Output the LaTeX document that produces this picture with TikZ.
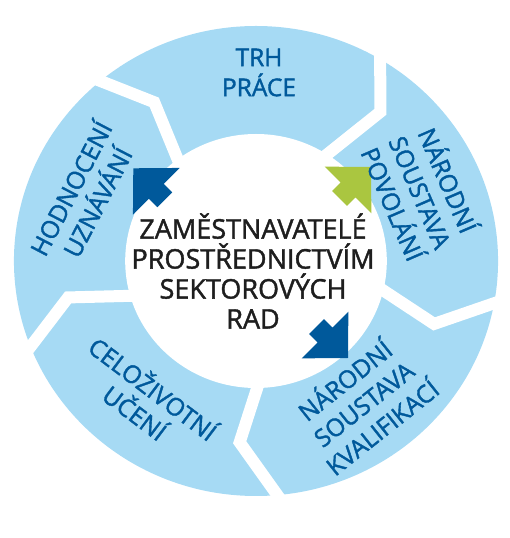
\documentclass[tikz,border=0pt]{standalone}
\usepackage{fontspec}
\setmainfont[FakeBold=1.5]{Open Sans}
\usetikzlibrary{calc}
\definecolor{ringblue}{RGB}{166,218,244}
\definecolor{cycleblue}{RGB}{0,89,155}
\definecolor{leafgreen}{RGB}{170,198,64}
\definecolor{hubtext}{RGB}{30,30,30}

\begin{document}
\begin{tikzpicture}[x=1pt, y=1pt,
    seg/.style={fill=ringblue},
    cut/.style={draw=white, line width=12pt, line join=miter},
    lbl/.style={text=cycleblue, align=center, font=\fontsize{24.5}{30}\selectfont},
    hub/.style={text=hubtext, align=center, font=\fontsize{27}{30}\selectfont}
  ]
  \useasboundingbox (0,0) rectangle (510,538);
  % ring of five chevrons
  \begin{scope}[shift={(256,277)}, xscale=1.03]
    \fill[seg] (0,0) circle [radius=235];
    \foreach \o/\t/\r/\i in {131.8/121.9/187/129.2, 61.2/51/192/59.9, -8.4/-20/184/-10, -83/-95/182/-86.6, 203.5/191.3/186/198.2}
      \draw[cut] (\o:250) -- (\t:\r) -- (\i:110);
    \fill[white] (0,0) circle [radius=127];
  \end{scope}
  % block arrows
  \foreach \x/\y/\a/\c in {133.3/369.7/135/cycleblue, 371/371/45/leafgreen, 348/180/-45/cycleblue}
    \fill[\c, shift={(\x,\y)}, rotate=\a] (0,0) -- (-32.5,33) -- (-32.5,10.5) -- (-44.5,10.5)
      -- (-44.5,-10.5) -- (-32.5,-10.5) -- (-32.5,-33) -- cycle;
  % texts
  \node[hub] (hub) at (253,267) {ZAMĚSTNAVATELÉ\\PROSTŘEDNICTVÍM\\SEKTOROVÝCH\\RAD};
  \node[lbl] (trh) at (259,465.5) {TRH\\PRÁCE};
  \node[lbl, rotate=-66.7] (povolani) at (422,346.5) {NÁRODNÍ\\SOUSTAVA\\POVOLÁNÍ};
  \node[lbl, rotate=38.5] (kvalifikace) at (362.5,135.5) {NÁRODNÍ\\SOUSTAVA\\KVALIFIKACÍ};
  \node[lbl, rotate=-37] (celozivotni) at (145,138.5) {CELOŽIVOTNÍ\\UČENÍ};
  \node[lbl, rotate=62.5] (hodnoceni) at (82.5,343.5) {HODNOCENÍ\\UZNÁVÁNÍ};
\end{tikzpicture}
\end{document}
